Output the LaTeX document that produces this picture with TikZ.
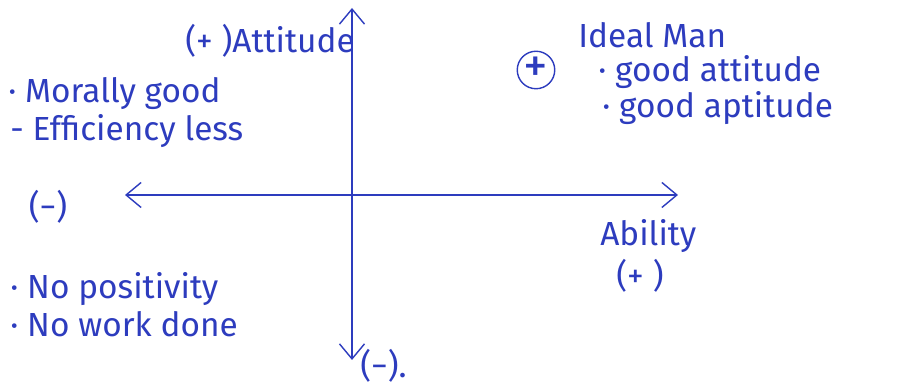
\documentclass[tikz,border=0pt]{standalone}
\usepackage{fontspec}
\setmainfont{Fira Sans}
\usepackage{tikz}
\usetikzlibrary{positioning, arrows.meta}
\definecolor{inkblue}{RGB}{45,60,190}

\begin{document}
\begin{tikzpicture}[%
        hand/.style={text=inkblue, font=\fontsize{19}{22}\selectfont, inner sep=0pt},
        note/.style={hand, anchor=west},
        axis/.style={draw=inkblue, thick, {Straight Barb[length=3mm, width=5mm]}-{Straight Barb[length=3mm, width=5mm]}},
        plusmark/.style={circle, draw=inkblue, thick, text=inkblue, minimum size=0.75cm, inner sep=0pt, font=\fontsize{28}{28}\selectfont}%
    ]
        \useasboundingbox (0, 0) rectangle (18.06, 7.72);

        % axes
        \coordinate (attTop) at (7.04, 7.56);
        \coordinate (attBot) at (7.04, 0.52);
        \coordinate (abLeft) at (2.5, 3.82);
        \coordinate (abRight) at (13.56, 3.82);
        \draw[axis] (abLeft) -- (abRight);
        \draw[axis] (attTop) -- (attBot);

        % axis labels
        \node[note] (attitude) at (3.7, 6.9) {(+ )Attitude};
        \node[hand] (negLeft) at (0.96, 3.58) {(−)};
        \node[note] (negBot) at (7.2, 0.4) {(−).};
        \node[note] (ability) at (12.0, 3.0) {Ability};
        \node[hand] (posAbility) at (12.8, 2.2) {(+ )};

        % quadrants
        \node[note] (moral) at (0.16, 5.84) {· Morally good};
        \node[note] (effic) at (0.2, 5.1) {- Efficiency less};
        \node[note] (noPos) at (0.2, 1.94) {· No positivity};
        \node[note] (noWork) at (0.2, 1.24) {· No work done};

        \node[plusmark] (plus) at (10.72, 6.32) {+};
        \node[note] (ideal) at (11.56, 7.02) {Ideal Man};
        \node[note] (goodAtt) at (11.96, 6.28) {· good attitude};
        \node[note] (goodApt) at (12.04, 5.56) {· good aptitude};
    \end{tikzpicture}
\end{document}
